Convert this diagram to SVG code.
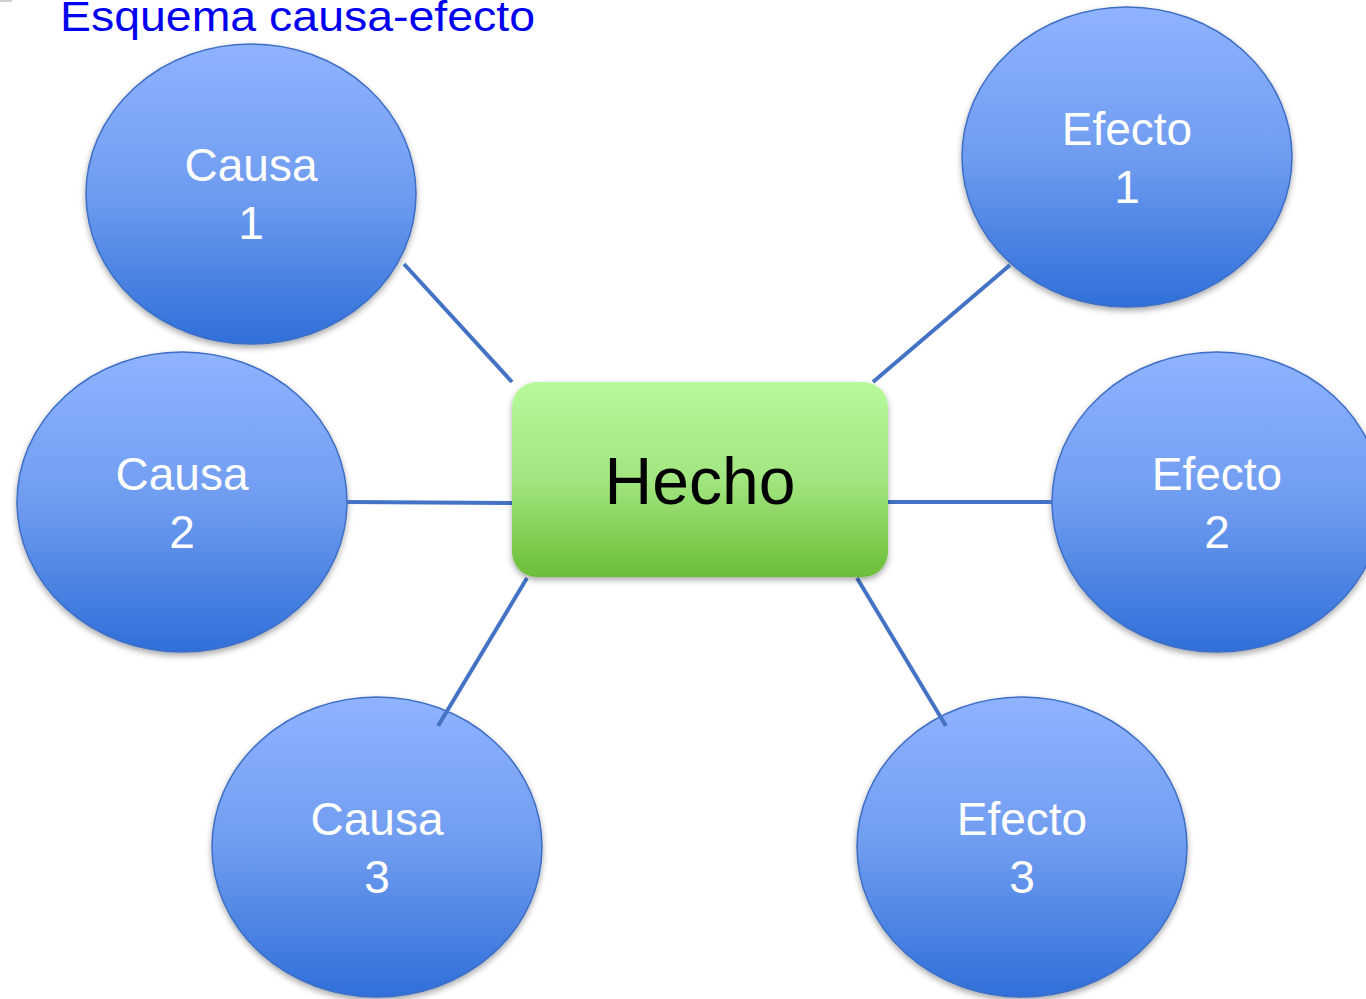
<svg xmlns="http://www.w3.org/2000/svg" width="1366" height="999" viewBox="0 0 1366 999">
<defs>
<linearGradient id="gBlue" x1="0" y1="0" x2="0" y2="1">
<stop offset="0" stop-color="#8fb3ff"/>
<stop offset="0.5" stop-color="#6f9cf0"/>
<stop offset="1" stop-color="#2f6fd9"/>
</linearGradient>
<linearGradient id="gGreen" x1="0" y1="0" x2="0" y2="1">
<stop offset="0" stop-color="#b6fa9b"/>
<stop offset="0.5" stop-color="#a1e67f"/>
<stop offset="1" stop-color="#6dbd38"/>
</linearGradient>
<filter id="sh" x="-10%" y="-10%" width="120%" height="125%">
<feGaussianBlur in="SourceAlpha" stdDeviation="3"/>
<feOffset dx="0" dy="3" result="b"/>
<feComponentTransfer><feFuncA type="linear" slope="0.35"/></feComponentTransfer>
<feMerge><feMergeNode/><feMergeNode in="SourceGraphic"/></feMerge>
</filter>
</defs>
<style>
.ell{fill:url(#gBlue);stroke:#3d6ec4;stroke-width:1.5;filter:url(#sh)}
.lbl{font-family:"Liberation Sans",Arial,sans-serif;font-size:46px;fill:#ffffff;text-anchor:middle}
.con{stroke:#4472c4;stroke-width:4;fill:none}
</style>
<rect width="1366" height="999" fill="#ffffff"/>
<rect x="0" y="0" width="12" height="2" fill="#cfcfcf"/>
<text x="60" y="31" font-family="'Liberation Sans',Arial,sans-serif" font-size="42" fill="#0000ee" textLength="475" lengthAdjust="spacingAndGlyphs">Esquema causa-efecto</text>
<g id="causa1">
<ellipse class="ell" cx="251" cy="194" rx="165" ry="150"/>
<text class="lbl" x="251" y="181">Causa</text>
<text class="lbl" x="251" y="239">1</text>
</g>
<g id="causa2">
<ellipse class="ell" cx="182" cy="502" rx="165" ry="150"/>
<text class="lbl" x="182" y="490">Causa</text>
<text class="lbl" x="182" y="548">2</text>
</g>
<g id="causa3">
<ellipse class="ell" cx="377" cy="847" rx="165" ry="150"/>
<text class="lbl" x="377" y="835">Causa</text>
<text class="lbl" x="377" y="893">3</text>
</g>
<g id="efecto1">
<ellipse class="ell" cx="1127" cy="157" rx="165" ry="150"/>
<text class="lbl" x="1127" y="145">Efecto</text>
<text class="lbl" x="1127" y="203">1</text>
</g>
<g id="efecto2">
<ellipse class="ell" cx="1217" cy="502" rx="165" ry="150"/>
<text class="lbl" x="1217" y="490">Efecto</text>
<text class="lbl" x="1217" y="548">2</text>
</g>
<g id="efecto3">
<ellipse class="ell" cx="1022" cy="847" rx="165" ry="150"/>
<text class="lbl" x="1022" y="835">Efecto</text>
<text class="lbl" x="1022" y="893">3</text>
</g>
<g id="connectors">
<line class="con" x1="404" y1="264" x2="512" y2="382"/>
<line class="con" x1="347" y1="502" x2="512" y2="503"/>
<line class="con" x1="527" y1="578" x2="438" y2="726"/>
<line class="con" x1="1010" y1="265" x2="873" y2="382"/>
<line class="con" x1="888" y1="502" x2="1052" y2="502"/>
<line class="con" x1="857" y1="578" x2="946" y2="726"/>
</g>
<g id="hecho">
<rect x="512" y="382" width="376" height="195" rx="25" ry="25" fill="url(#gGreen)" filter="url(#sh)"/>
<text x="700" y="504" font-family="'Liberation Sans',Arial,sans-serif" font-size="66" fill="#000000" text-anchor="middle">Hecho</text>
</g>
</svg>
